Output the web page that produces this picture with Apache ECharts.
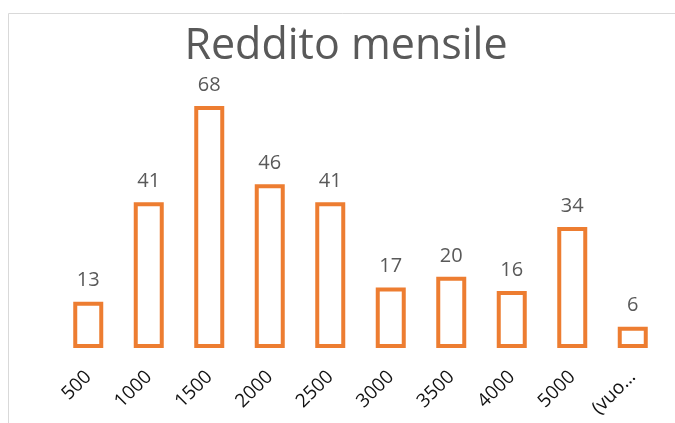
<!DOCTYPE html>
<html>
<head>
<meta charset="utf-8">
<script src="https://cdn.jsdelivr.net/npm/echarts@6/dist/echarts.min.js"></script>
<style>
  html, body { margin: 0; padding: 0; background: #fff; }
  #chart { width: 675px; height: 423px; }
</style>
</head>
<body>
<div id="chart"></div>
<script>
// categorie (fasce di reddito) e conteggi
var categories = ['500', '1000', '1500', '2000', '2500', '3000', '3500', '4000', '5000', '(vuoto)'];
var counts = [13, 41, 68, 46, 41, 17, 20, 16, 34, 6];

var chart = echarts.init(document.getElementById('chart'));

var option = {
  animation: false,
  title: {
    text: 'Reddito mensile',
    left: 341,
    textAlign: 'center',
    top: 20,
    textStyle: {
      fontFamily: 'Open Sans',
      fontWeight: 'normal',
      fontSize: 43,
      color: '#595959'
    }
  },
  grid: {
    left: 58,
    right: 12,
    top: 99,
    bottom: 75
  },
  xAxis: {
    type: 'category',
    data: categories,
    axisLine: { show: false },
    axisTick: { show: false },
    axisLabel: {
      rotate: 45,
      interval: 0,
      margin: 26,
      fontFamily: 'Open Sans',
      fontSize: 19,
      color: '#111111',
      width: 58,
      overflow: 'truncate',
      ellipsis: '…'
    }
  },
  yAxis: {
    type: 'value',
    min: 0,
    max: 70,
    show: false
  },
  series: [{
    type: 'bar',
    data: counts,
    barWidth: 30,
    itemStyle: {
      color: '#ffffff',
      borderColor: '#ED7D31',
      borderWidth: 4
    },
    label: {
      show: true,
      position: 'top',
      distance: 11,
      fontFamily: 'Open Sans',
      fontSize: 20,
      color: '#595959'
    }
  }],
  graphic: [{
    type: 'rect',
    shape: { x: 8.5, y: 13.5, width: 700, height: 450 },
    style: { fill: 'none', stroke: '#d9d9d9', lineWidth: 1 },
    silent: true
  }]
};

chart.setOption(option);
</script>
</body>
</html>
